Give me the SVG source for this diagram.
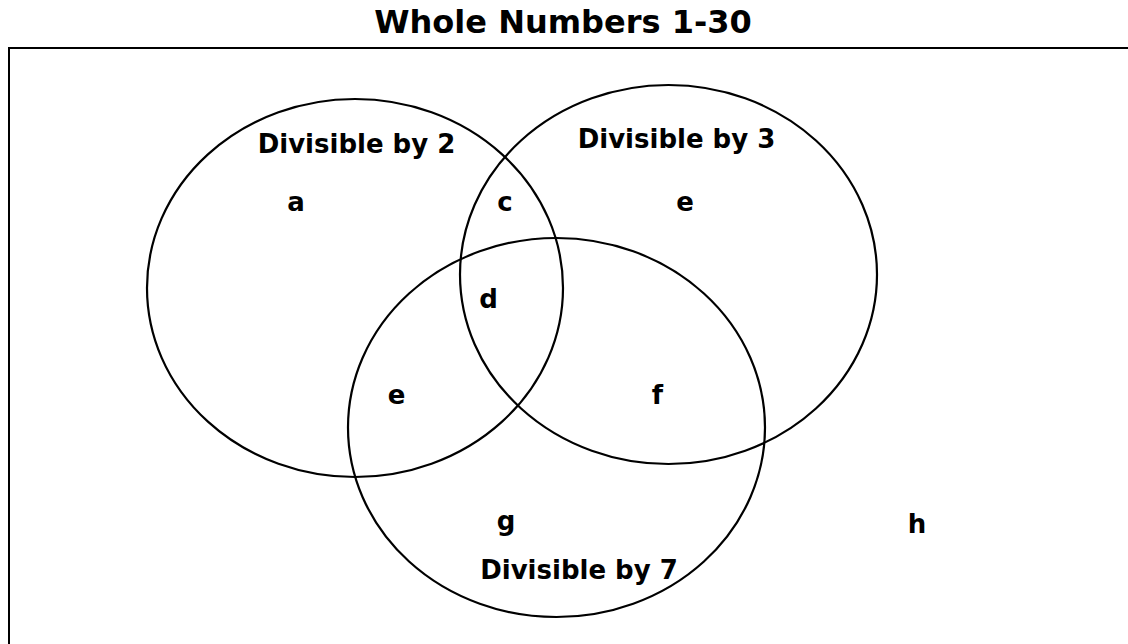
<svg xmlns="http://www.w3.org/2000/svg" width="1128" height="644" viewBox="0 0 1128 644">
  <style>
    .t { font-family: "DejaVu Sans", Verdana, sans-serif; font-weight: bold; fill: #000; text-anchor: middle; }
    .lbl { font-size: 26px; }
    .ttl { font-size: 32px; }
    .set { fill: none; stroke: #000; stroke-width: 2.2; }
  </style>
  <rect x="0" y="0" width="1128" height="644" fill="#fff"/>
  <text class="t ttl" x="563" y="33">Whole Numbers 1-30</text>
  <g id="universe">
    <rect x="9" y="48" width="1140" height="620" fill="none" stroke="#000" stroke-width="2"/>
  </g>
  <g id="connectors"></g>
  <g id="set2">
    <ellipse class="set" cx="355" cy="288" rx="208" ry="189"/>
    <text class="t lbl" x="356.5" y="153">Divisible by 2</text>
  </g>
  <g id="set3">
    <ellipse class="set" cx="668.5" cy="274.5" rx="208.5" ry="189.5"/>
    <text class="t lbl" x="676.5" y="148">Divisible by 3</text>
  </g>
  <g id="set7">
    <ellipse class="set" cx="556.5" cy="427.5" rx="208.5" ry="189.5"/>
    <text class="t lbl" x="579" y="579">Divisible by 7</text>
  </g>
  <g id="region-a"><text class="t lbl" x="296" y="211">a</text></g>
  <g id="region-c"><text class="t lbl" x="505" y="211">c</text></g>
  <g id="region-e-top"><text class="t lbl" x="685" y="211">e</text></g>
  <g id="region-d"><text class="t lbl" x="488.5" y="308">d</text></g>
  <g id="region-e-bottom"><text class="t lbl" x="396.5" y="404">e</text></g>
  <g id="region-f"><text class="t lbl" x="657.5" y="404">f</text></g>
  <g id="region-g"><text class="t lbl" x="506" y="530">g</text></g>
  <g id="region-h"><text class="t lbl" x="917" y="533">h</text></g>
</svg>
